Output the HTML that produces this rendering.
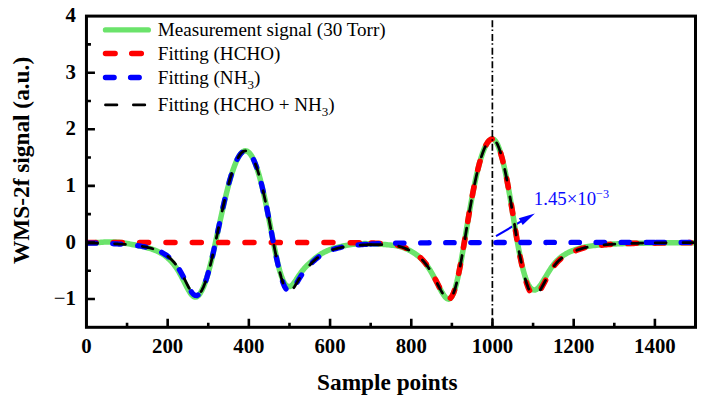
<!DOCTYPE html>
<html><head><meta charset="utf-8"><title>WMS-2f signal</title>
<style>
html,body{margin:0;padding:0;background:#fff;}
body{width:707px;height:402px;overflow:hidden;position:relative;font-family:"Liberation Serif",serif;}
</style></head><body>
<svg width="707" height="402" viewBox="0 0 707 402" style="position:absolute;left:0;top:0">
<defs><clipPath id="c"><rect x="85.25" y="16.10" width="611.45" height="311.20"/></clipPath></defs>
<line x1="496" y1="236.1" x2="522" y2="220.9" stroke="#0000ff" stroke-width="2.1"/>
<path d="M534.9,213.4 L522.7,224.9 L518.8,218.3 Z" fill="#0000ff"/>
<g clip-path="url(#c)" fill="none" stroke-linejoin="round">
<path d="M86.45,242.90 L88.07,242.88 L89.70,242.84 L91.32,242.80 L92.95,242.74 L94.57,242.67 L96.19,242.59 L97.82,242.50 L99.44,242.40 L101.07,242.30 L102.69,242.20 L104.32,242.10 L105.94,242.01 L107.56,241.95 L109.19,241.90 L110.81,241.88 L112.44,241.89 L114.06,241.94 L115.68,242.02 L117.31,242.14 L118.93,242.30 L120.56,242.49 L122.18,242.71 L123.81,242.95 L125.43,243.22 L127.05,243.51 L128.68,243.81 L130.30,244.11 L131.93,244.43 L133.55,244.75 L135.17,245.07 L136.80,245.40 L138.42,245.73 L140.05,246.07 L141.67,246.42 L143.29,246.78 L144.92,247.16 L146.54,247.57 L148.17,248.00 L149.79,248.47 L151.42,248.97 L153.04,249.53 L154.66,250.14 L156.29,250.80 L157.91,251.53 L159.54,252.34 L161.16,253.23 L162.78,254.22 L164.41,255.32 L166.03,256.53 L167.66,257.87 L169.28,259.36 L170.90,261.01 L172.53,262.83 L174.15,264.84 L175.78,267.04 L177.40,269.48 L179.03,272.15 L180.65,275.04 L182.27,278.11 L183.90,281.30 L185.52,284.54 L187.15,287.70 L188.77,290.64 L190.39,293.19 L192.02,295.21 L193.64,296.53 L195.27,297.05 L196.89,296.70 L198.52,295.51 L200.14,293.49 L201.76,290.70 L203.39,287.20 L205.01,283.01 L206.64,278.20 L208.26,272.80 L209.88,266.83 L211.51,260.33 L213.13,253.32 L214.76,245.84 L216.38,238.25 L218.00,230.74 L219.63,223.22 L221.25,215.77 L222.88,208.46 L224.50,201.38 L226.13,194.57 L227.75,188.11 L229.37,182.04 L231.00,176.40 L232.62,171.23 L234.25,166.58 L235.87,162.47 L237.49,158.93 L239.12,155.99 L240.74,153.68 L242.37,152.03 L243.99,151.06 L245.62,150.79 L247.24,151.23 L248.86,152.38 L250.49,154.23 L252.11,156.77 L253.74,159.98 L255.36,163.86 L256.98,168.39 L258.61,173.55 L260.23,179.32 L261.86,185.67 L263.48,192.56 L265.10,199.94 L266.73,207.77 L268.35,215.95 L269.98,224.39 L271.60,232.99 L273.23,241.59 L274.85,249.66 L276.47,257.32 L278.10,264.40 L279.72,270.70 L281.35,276.05 L282.97,280.31 L284.59,283.42 L286.22,285.42 L287.84,286.43 L289.47,286.60 L291.09,285.97 L292.71,284.55 L294.34,282.50 L295.96,280.08 L297.59,277.52 L299.21,275.03 L300.84,272.73 L302.46,270.63 L304.08,268.71 L305.71,266.94 L307.33,265.28 L308.96,263.71 L310.58,262.20 L312.20,260.74 L313.83,259.31 L315.45,257.95 L317.08,256.69 L318.70,255.52 L320.33,254.43 L321.95,253.44 L323.57,252.52 L325.20,251.68 L326.82,250.90 L328.45,250.20 L330.07,249.55 L331.69,248.99 L333.32,248.48 L334.94,248.00 L336.57,247.56 L338.19,247.14 L339.81,246.75 L341.44,246.38 L343.06,246.03 L344.69,245.70 L346.31,245.39 L347.94,245.10 L349.56,244.83 L351.18,244.58 L352.81,244.36 L354.43,244.17 L356.06,244.00 L357.68,243.86 L359.30,243.75 L360.93,243.68 L362.55,243.63 L364.18,243.61 L365.80,243.61 L367.43,243.64 L369.05,243.68 L370.67,243.74 L372.30,243.81 L373.92,243.90 L375.55,243.98 L377.17,244.08 L378.79,244.17 L380.42,244.27 L382.04,244.38 L383.67,244.49 L385.29,244.61 L386.91,244.73 L388.54,244.87 L390.16,245.02 L391.79,245.19 L393.41,245.39 L395.04,245.62 L396.66,245.88 L398.28,246.18 L399.91,246.53 L401.53,247.01 L403.16,247.55 L404.78,248.17 L406.40,248.87 L408.03,249.63 L409.65,250.46 L411.28,251.36 L412.90,252.31 L414.52,253.35 L416.15,254.47 L417.77,255.71 L419.40,257.08 L421.02,258.62 L422.65,260.30 L424.27,262.14 L425.89,264.14 L427.52,266.33 L429.14,268.71 L430.77,271.30 L432.39,274.09 L434.01,277.08 L435.64,280.20 L437.26,283.37 L438.89,286.55 L440.51,289.65 L442.14,292.56 L443.76,295.14 L445.38,297.24 L447.01,298.65 L448.63,299.15 L450.26,298.52 L451.88,296.59 L453.50,293.26 L455.13,288.52 L456.75,282.46 L458.38,275.23 L460.00,267.06 L461.62,258.17 L463.25,248.82 L464.87,239.17 L466.50,229.31 L468.12,219.56 L469.75,210.04 L471.37,200.89 L472.99,192.19 L474.62,184.02 L476.24,176.43 L477.87,169.47 L479.49,163.18 L481.11,157.58 L482.74,152.69 L484.36,148.53 L485.99,145.11 L487.61,142.44 L489.24,140.53 L490.86,139.38 L492.48,138.99 L494.11,139.58 L495.73,141.32 L497.36,144.16 L498.98,148.04 L500.60,152.91 L502.23,158.71 L503.85,165.37 L505.48,172.82 L507.10,180.99 L508.72,189.78 L510.35,199.09 L511.97,208.80 L513.60,218.78 L515.22,228.86 L516.85,238.88 L518.47,248.05 L520.09,256.34 L521.72,263.88 L523.34,270.55 L524.97,276.24 L526.59,280.87 L528.21,284.46 L529.84,287.07 L531.46,288.82 L533.09,289.83 L534.71,290.07 L536.33,289.48 L537.96,288.20 L539.58,286.32 L541.21,284.03 L542.83,281.46 L544.46,278.77 L546.08,276.04 L547.70,273.32 L549.33,270.69 L550.95,268.21 L552.58,265.90 L554.20,263.78 L555.82,261.87 L557.45,260.16 L559.07,258.65 L560.70,257.30 L562.32,256.09 L563.95,255.01 L565.57,254.03 L567.19,253.14 L568.82,252.33 L570.44,251.58 L572.07,250.90 L573.69,250.26 L575.31,249.67 L576.94,249.12 L578.56,248.61 L580.19,248.15 L581.81,247.72 L583.43,247.34 L585.06,246.98 L586.68,246.65 L588.31,246.36 L589.93,246.09 L591.56,245.85 L593.18,245.63 L594.80,245.43 L596.43,245.25 L598.05,245.09 L599.68,244.93 L601.30,244.79 L602.92,244.66 L604.55,244.54 L606.17,244.43 L607.80,244.33 L609.42,244.23 L611.05,244.14 L612.67,244.06 L614.29,243.98 L615.92,243.91 L617.54,243.84 L619.17,243.77 L620.79,243.71 L622.41,243.65 L624.04,243.60 L625.66,243.55 L627.29,243.50 L628.91,243.45 L630.53,243.41 L632.16,243.37 L633.78,243.33 L635.41,243.29 L637.03,243.26 L638.66,243.22 L640.28,243.19 L641.90,243.16 L643.53,243.13 L645.15,243.10 L646.78,243.08 L648.40,243.05 L650.02,243.03 L651.65,243.00 L653.27,242.98 L654.90,242.96 L656.52,242.94 L658.14,242.92 L659.77,242.90 L661.39,242.88 L663.02,242.87 L664.64,242.85 L666.27,242.84 L667.89,242.82 L669.51,242.81 L671.14,242.80 L672.76,242.78 L674.39,242.77 L676.01,242.76 L677.63,242.75 L679.26,242.74 L680.88,242.73 L682.51,242.72 L684.13,242.71 L685.76,242.70 L687.38,242.69 L689.00,242.68 L690.63,242.67 L692.25,242.66 L693.88,242.66 L695.50,242.65" stroke="#6be36b" stroke-width="5.5" stroke-linecap="round"/>
<path d="M86.45,242.43 L88.07,242.43 L89.70,242.43 L91.32,242.43 L92.95,242.43 L94.57,242.43 L96.19,242.43 L97.82,242.43 L99.44,242.43 L101.07,242.43 L102.69,242.43 L104.32,242.43 L105.94,242.43 L107.56,242.43 L109.19,242.43 L110.81,242.43 L112.44,242.43 L114.06,242.43 L115.68,242.43 L117.31,242.43 L118.93,242.43 L120.56,242.43 L122.18,242.43 L123.81,242.43 L125.43,242.43 L127.05,242.43 L128.68,242.43 L130.30,242.43 L131.93,242.43 L133.55,242.43 L135.17,242.43 L136.80,242.43 L138.42,242.43 L140.05,242.43 L141.67,242.43 L143.29,242.43 L144.92,242.43 L146.54,242.43 L148.17,242.43 L149.79,242.43 L151.42,242.43 L153.04,242.43 L154.66,242.43 L156.29,242.43 L157.91,242.43 L159.54,242.43 L161.16,242.43 L162.78,242.43 L164.41,242.43 L166.03,242.43 L167.66,242.43 L169.28,242.43 L170.90,242.43 L172.53,242.43 L174.15,242.43 L175.78,242.43 L177.40,242.43 L179.03,242.43 L180.65,242.43 L182.27,242.43 L183.90,242.43 L185.52,242.43 L187.15,242.43 L188.77,242.43 L190.39,242.43 L192.02,242.43 L193.64,242.43 L195.27,242.43 L196.89,242.43 L198.52,242.43 L200.14,242.43 L201.76,242.44 L203.39,242.44 L205.01,242.44 L206.64,242.44 L208.26,242.44 L209.88,242.44 L211.51,242.44 L213.13,242.44 L214.76,242.44 L216.38,242.44 L218.00,242.44 L219.63,242.44 L221.25,242.44 L222.88,242.44 L224.50,242.44 L226.13,242.44 L227.75,242.44 L229.37,242.44 L231.00,242.44 L232.62,242.44 L234.25,242.44 L235.87,242.44 L237.49,242.44 L239.12,242.44 L240.74,242.44 L242.37,242.44 L243.99,242.44 L245.62,242.44 L247.24,242.44 L248.86,242.45 L250.49,242.45 L252.11,242.45 L253.74,242.45 L255.36,242.45 L256.98,242.45 L258.61,242.45 L260.23,242.45 L261.86,242.45 L263.48,242.45 L265.10,242.45 L266.73,242.45 L268.35,242.45 L269.98,242.45 L271.60,242.46 L273.23,242.46 L274.85,242.46 L276.47,242.46 L278.10,242.46 L279.72,242.46 L281.35,242.46 L282.97,242.46 L284.59,242.47 L286.22,242.47 L287.84,242.47 L289.47,242.47 L291.09,242.47 L292.71,242.47 L294.34,242.48 L295.96,242.48 L297.59,242.48 L299.21,242.48 L300.84,242.48 L302.46,242.49 L304.08,242.49 L305.71,242.49 L307.33,242.49 L308.96,242.50 L310.58,242.50 L312.20,242.50 L313.83,242.51 L315.45,242.51 L317.08,242.51 L318.70,242.52 L320.33,242.52 L321.95,242.53 L323.57,242.53 L325.20,242.54 L326.82,242.54 L328.45,242.55 L330.07,242.56 L331.69,242.56 L333.32,242.57 L334.94,242.58 L336.57,242.59 L338.19,242.60 L339.81,242.61 L341.44,242.62 L343.06,242.63 L344.69,242.64 L346.31,242.65 L347.94,242.67 L349.56,242.68 L351.18,242.70 L352.81,242.72 L354.43,242.73 L356.06,242.76 L357.68,242.78 L359.30,242.80 L360.93,242.83 L362.55,242.86 L364.18,242.89 L365.80,242.92 L367.43,242.96 L369.05,243.00 L370.67,243.05" stroke="#ff0000" stroke-width="5.6" stroke-linecap="round" stroke-dasharray="8.9 17.43" stroke-dashoffset="-0.6"/>
<path d="M370.67,243.05 L372.30,243.10 L373.92,243.15 L375.55,243.21 L377.17,243.28 L378.79,243.36 L380.42,243.44 L382.04,243.53 L383.67,243.64 L385.29,243.76 L386.91,243.89 L388.54,244.04 L390.16,244.21 L391.79,244.40 L393.41,244.61 L395.04,244.86 L396.66,245.15 L398.28,245.47 L399.91,245.85 L401.53,246.35 L403.16,246.92 L404.78,247.57 L406.40,248.28 L408.03,249.07 L409.65,249.92 L411.28,250.84 L412.90,251.81 L414.52,252.87 L416.15,254.01 L417.77,255.26 L419.40,256.65 L421.02,258.20 L422.65,259.90 L424.27,261.75 L425.89,263.77 L427.52,265.98 L429.14,268.37 L430.77,270.97 L432.39,273.77 L434.01,276.77 L435.64,279.90 L437.26,283.08 L438.89,286.27 L440.51,289.38 L442.14,292.30 L443.76,294.89 L445.38,297.00 L447.01,298.41 L448.63,298.92 L450.26,298.30 L451.88,296.37 L453.50,293.05 L455.13,288.31 L456.75,282.26 L458.38,275.04 L460.00,266.87 L461.62,257.99 L463.25,248.65 L464.87,239.00 L466.50,229.15 L468.12,219.40 L469.75,209.89 L471.37,200.74 L472.99,192.04 L474.62,183.87 L476.24,176.29 L477.87,169.34 L479.49,163.05 L481.11,157.45 L482.74,152.57 L484.36,148.41 L485.99,145.00 L487.61,142.33 L489.24,140.42 L490.86,139.27 L492.48,138.88 L494.11,139.47 L495.73,141.22 L497.36,144.06 L498.98,147.94 L500.60,152.82 L502.23,158.62 L503.85,165.28 L505.48,172.74 L507.10,180.91 L508.72,189.71 L510.35,199.03 L511.97,208.75 L513.60,218.75 L515.22,228.87 L516.85,238.95 L518.47,248.23 L520.09,256.69 L521.72,264.52 L523.34,271.61 L524.97,277.89 L526.59,283.28 L528.21,287.73 L529.84,291.17 L531.46,293.58 L533.09,294.94 L534.71,295.27 L536.33,294.62 L537.96,293.14 L539.58,291.00 L541.21,288.39 L542.83,285.49 L544.46,282.45 L546.08,279.38 L547.70,276.34 L549.33,273.43 L550.95,270.69 L552.58,268.16 L554.20,265.86 L555.82,263.80 L557.45,261.97 L559.07,260.34 L560.70,258.90 L562.32,257.62 L563.95,256.46 L565.57,255.42 L567.19,254.47 L568.82,253.59 L570.44,252.79 L572.07,252.05 L573.69,251.35 L575.31,250.71 L576.94,250.10 L578.56,249.54 L580.19,249.02 L581.81,248.55 L583.43,248.11 L585.06,247.70 L586.68,247.33 L588.31,246.98 L589.93,246.67 L591.56,246.39 L593.18,246.13 L594.80,245.90 L596.43,245.68 L598.05,245.48 L599.68,245.29 L601.30,245.12 L602.92,244.96 L604.55,244.81 L606.17,244.67 L607.80,244.55 L609.42,244.43 L611.05,244.32 L612.67,244.22 L614.29,244.12 L615.92,244.03 L617.54,243.95 L619.17,243.87 L620.79,243.80 L622.41,243.73 L624.04,243.66 L625.66,243.60 L627.29,243.55 L628.91,243.49 L630.53,243.44 L632.16,243.39 L633.78,243.35 L635.41,243.31 L637.03,243.27 L638.66,243.23 L640.28,243.20 L641.90,243.16 L643.53,243.13 L645.15,243.10 L646.78,243.07 L648.40,243.05 L650.02,243.02 L651.65,243.00 L653.27,242.97 L654.90,242.95" stroke="#ff0000" stroke-width="5.6" stroke-linecap="round" stroke-dasharray="8.9 17.43" stroke-dashoffset="-0.6"/>
<path d="M654.90,242.95 L656.52,242.93 L658.14,242.91 L659.77,242.89 L661.39,242.87 L663.02,242.86 L664.64,242.84 L666.27,242.83 L667.89,242.81 L669.51,242.80 L671.14,242.78 L672.76,242.77 L674.39,242.76 L676.01,242.75 L677.63,242.74 L679.26,242.73 L680.88,242.72 L682.51,242.71 L684.13,242.70 L685.76,242.69 L687.38,242.68 L689.00,242.67 L690.63,242.66 L692.25,242.65 L693.88,242.65 L695.50,242.64" stroke="#ff0000" stroke-width="5.6" stroke-linecap="round" stroke-dasharray="8.9 17.43" stroke-dashoffset="-0.6"/>
<path d="M86.45,243.03 L88.07,243.05 L89.70,243.08 L91.32,243.11 L92.95,243.14 L94.57,243.18 L96.19,243.21 L97.82,243.25 L99.44,243.29 L101.07,243.33 L102.69,243.38 L104.32,243.42 L105.94,243.47 L107.56,243.53 L109.19,243.59 L110.81,243.65 L112.44,243.71 L114.06,243.78 L115.68,243.86 L117.31,243.94 L118.93,244.03 L120.56,244.12 L122.18,244.22 L123.81,244.32 L125.43,244.44 L127.05,244.56 L128.68,244.70 L130.30,244.84 L131.93,245.00 L133.55,245.16 L135.17,245.35 L136.80,245.54 L138.42,245.76 L140.05,245.99 L141.67,246.25 L143.29,246.52 L144.92,246.83 L146.54,247.16 L148.17,247.52 L149.79,247.92 L151.42,248.35 L153.04,248.83 L154.66,249.36 L156.29,249.94 L157.91,250.59 L159.54,251.30 L161.16,252.09 L162.78,252.96 L164.41,253.93 L166.03,255.01 L167.66,256.20 L169.28,257.54 L170.90,259.01 L172.53,260.66 L174.15,262.47 L175.78,264.49 L177.40,266.71 L179.03,269.17 L180.65,271.87 L182.27,274.80 L183.90,277.91 L185.52,281.14 L187.15,284.38 L188.77,287.50 L190.39,290.34 L192.02,292.72 L193.64,294.47 L195.27,295.45 L196.89,295.54 L198.52,294.73 L200.14,293.02 L201.76,290.47 L203.39,287.12 L205.01,283.03 L206.64,278.26 L208.26,272.85 L209.88,266.86 L211.51,260.33 L213.13,253.30 L214.76,245.81 L216.38,238.13 L218.00,230.47 L219.63,222.82 L221.25,215.27 L222.88,207.90 L224.50,200.78 L226.13,193.96 L227.75,187.51 L229.37,181.47 L231.00,175.88 L232.62,170.78 L234.25,166.19 L235.87,162.16 L237.49,158.69 L239.12,155.83 L240.74,153.58 L242.37,151.97 L243.99,151.03 L245.62,150.77 L247.24,151.21 L248.86,152.36 L250.49,154.21 L252.11,156.75 L253.74,159.96 L255.36,163.84 L256.98,168.37 L258.61,173.53 L260.23,179.30 L261.86,185.65 L263.48,192.54 L265.10,199.94 L266.73,207.77 L268.35,215.97 L269.98,224.46 L271.60,233.11 L273.23,241.79 L274.85,249.99 L276.47,257.84 L278.10,265.21 L279.72,271.93 L281.35,277.83 L282.97,282.77 L284.59,286.63 L286.22,289.34 L287.84,290.89 L289.47,291.31 L291.09,290.69 L292.71,289.17 L294.34,286.94 L295.96,284.29 L297.59,281.46 L299.21,278.67 L300.84,276.06 L302.46,273.66 L304.08,271.46 L305.71,269.43 L307.33,267.54 L308.96,265.77 L310.58,264.09 L312.20,262.48 L313.83,260.93 L315.45,259.46 L317.08,258.10 L318.70,256.84 L320.33,255.68 L321.95,254.61 L323.57,253.63 L325.20,252.73 L326.82,251.90 L328.45,251.14 L330.07,250.46 L331.69,249.87 L333.32,249.32 L334.94,248.83 L336.57,248.38 L338.19,247.96 L339.81,247.58 L341.44,247.24 L343.06,246.92 L344.69,246.63 L346.31,246.36 L347.94,246.11 L349.56,245.88 L351.18,245.67 L352.81,245.47 L354.43,245.29 L356.06,245.12 L357.68,244.97 L359.30,244.82 L360.93,244.69 L362.55,244.56 L364.18,244.45 L365.80,244.34 L367.43,244.24 L369.05,244.14 L370.67,244.05" stroke="#0000ff" stroke-width="5.3" stroke-linecap="round" stroke-dasharray="8.4 16.66" stroke-dashoffset="-1.2"/>
<path d="M370.67,244.05 L372.30,243.97 L373.92,243.89 L375.55,243.82 L377.17,243.75 L378.79,243.69 L380.42,243.63 L382.04,243.57 L383.67,243.52 L385.29,243.47 L386.91,243.42 L388.54,243.37 L390.16,243.33 L391.79,243.29 L393.41,243.25 L395.04,243.22 L396.66,243.18 L398.28,243.15 L399.91,243.12 L401.53,243.09 L403.16,243.07 L404.78,243.04 L406.40,243.02 L408.03,242.99 L409.65,242.97 L411.28,242.95 L412.90,242.93 L414.52,242.91 L416.15,242.89 L417.77,242.87 L419.40,242.86 L421.02,242.84 L422.65,242.83 L424.27,242.81 L425.89,242.80 L427.52,242.79 L429.14,242.77 L430.77,242.76 L432.39,242.75 L434.01,242.74 L435.64,242.73 L437.26,242.72 L438.89,242.71 L440.51,242.70 L442.14,242.69 L443.76,242.68 L445.38,242.67 L447.01,242.67 L448.63,242.66 L450.26,242.65 L451.88,242.64 L453.50,242.64 L455.13,242.63 L456.75,242.62 L458.38,242.62 L460.00,242.61 L461.62,242.61 L463.25,242.60 L464.87,242.60 L466.50,242.59 L468.12,242.59 L469.75,242.58 L471.37,242.58 L472.99,242.57 L474.62,242.57 L476.24,242.57 L477.87,242.56 L479.49,242.56 L481.11,242.55 L482.74,242.55 L484.36,242.55 L485.99,242.54 L487.61,242.54 L489.24,242.54 L490.86,242.54 L492.48,242.53 L494.11,242.53 L495.73,242.53 L497.36,242.52 L498.98,242.52 L500.60,242.52 L502.23,242.52 L503.85,242.52 L505.48,242.51 L507.10,242.51 L508.72,242.51 L510.35,242.51 L511.97,242.51 L513.60,242.50 L515.22,242.50 L516.85,242.50 L518.47,242.50 L520.09,242.50 L521.72,242.49 L523.34,242.49 L524.97,242.49 L526.59,242.49 L528.21,242.49 L529.84,242.49 L531.46,242.49 L533.09,242.48 L534.71,242.48 L536.33,242.48 L537.96,242.48 L539.58,242.48 L541.21,242.48 L542.83,242.48 L544.46,242.48 L546.08,242.48 L547.70,242.47 L549.33,242.47 L550.95,242.47 L552.58,242.47 L554.20,242.47 L555.82,242.47 L557.45,242.47 L559.07,242.47 L560.70,242.47 L562.32,242.47 L563.95,242.47 L565.57,242.46 L567.19,242.46 L568.82,242.46 L570.44,242.46 L572.07,242.46 L573.69,242.46 L575.31,242.46 L576.94,242.46 L578.56,242.46 L580.19,242.46 L581.81,242.46 L583.43,242.46 L585.06,242.46 L586.68,242.46 L588.31,242.46 L589.93,242.46 L591.56,242.45 L593.18,242.45 L594.80,242.45 L596.43,242.45 L598.05,242.45 L599.68,242.45 L601.30,242.45 L602.92,242.45 L604.55,242.45 L606.17,242.45 L607.80,242.45 L609.42,242.45 L611.05,242.45 L612.67,242.45 L614.29,242.45 L615.92,242.45 L617.54,242.45 L619.17,242.45 L620.79,242.45 L622.41,242.45 L624.04,242.45 L625.66,242.45 L627.29,242.45 L628.91,242.45 L630.53,242.45 L632.16,242.44 L633.78,242.44 L635.41,242.44 L637.03,242.44 L638.66,242.44 L640.28,242.44 L641.90,242.44 L643.53,242.44 L645.15,242.44 L646.78,242.44 L648.40,242.44 L650.02,242.44 L651.65,242.44 L653.27,242.44 L654.90,242.44" stroke="#0000ff" stroke-width="5.3" stroke-linecap="round" stroke-dasharray="8.4 16.66" stroke-dashoffset="0.1"/>
<path d="M654.90,242.44 L656.52,242.44 L658.14,242.44 L659.77,242.44 L661.39,242.44 L663.02,242.44 L664.64,242.44 L666.27,242.44 L667.89,242.44 L669.51,242.44 L671.14,242.44 L672.76,242.44 L674.39,242.44 L676.01,242.44 L677.63,242.44 L679.26,242.44 L680.88,242.44 L682.51,242.44 L684.13,242.44 L685.76,242.44 L687.38,242.44 L689.00,242.44 L690.63,242.44 L692.25,242.44 L693.88,242.44 L695.50,242.44" stroke="#0000ff" stroke-width="5.3" stroke-linecap="round" stroke-dasharray="8.4 16.66" stroke-dashoffset="-1.2"/>
<path d="M86.45,243.03 L88.07,243.05 L89.70,243.08 L91.32,243.11 L92.95,243.14 L94.57,243.18 L96.19,243.21 L97.82,243.25 L99.44,243.29 L101.07,243.33 L102.69,243.38 L104.32,243.43 L105.94,243.48 L107.56,243.53 L109.19,243.59 L110.81,243.65 L112.44,243.72 L114.06,243.79 L115.68,243.86 L117.31,243.94 L118.93,244.03 L120.56,244.12 L122.18,244.22 L123.81,244.33 L125.43,244.44 L127.05,244.57 L128.68,244.70 L130.30,244.84 L131.93,245.00 L133.55,245.17 L135.17,245.35 L136.80,245.55 L138.42,245.76 L140.05,246.00 L141.67,246.25 L143.29,246.53 L144.92,246.83 L146.54,247.16 L148.17,247.52 L149.79,247.92 L151.42,248.36 L153.04,248.84 L154.66,249.37 L156.29,249.95 L157.91,250.59 L159.54,251.30 L161.16,252.09 L162.78,252.96 L164.41,253.93 L166.03,255.01 L167.66,256.21 L169.28,257.54 L170.90,259.02 L172.53,260.66 L174.15,262.48 L175.78,264.49 L177.40,266.71 L179.03,269.17 L180.65,271.88 L182.27,274.81 L183.90,277.92 L185.52,281.14 L187.15,284.38 L188.77,287.50 L190.39,290.35 L192.02,292.73 L193.64,294.48 L195.27,295.45 L196.89,295.55 L198.52,294.73 L200.14,293.03 L201.76,290.48 L203.39,287.13 L205.01,283.04 L206.64,278.27 L208.26,272.86 L209.88,266.87 L211.51,260.34 L213.13,253.31 L214.76,245.82 L216.38,238.14 L218.00,230.48 L219.63,222.83 L221.25,215.28 L222.88,207.91 L224.50,200.79 L226.13,193.97 L227.75,187.52 L229.37,181.48 L231.00,175.89 L232.62,170.79 L234.25,166.21 L235.87,162.17 L237.49,158.71 L239.12,155.84 L240.74,153.59 L242.37,151.99 L243.99,151.05 L245.62,150.79 L247.24,151.23 L248.86,152.38 L250.49,154.23 L252.11,156.77 L253.74,159.98 L255.36,163.86 L256.98,168.39 L258.61,173.55 L260.23,179.32 L261.86,185.67 L263.48,192.57 L265.10,199.96 L266.73,207.80 L268.35,216.00 L269.98,224.48 L271.60,233.13 L273.23,241.82 L274.85,250.02 L276.47,257.87 L278.10,265.24 L279.72,271.96 L281.35,277.86 L282.97,282.81 L284.59,286.67 L286.22,289.38 L287.84,290.93 L289.47,291.35 L291.09,290.74 L292.71,289.21 L294.34,286.99 L295.96,284.34 L297.59,281.51 L299.21,278.72 L300.84,276.12 L302.46,273.72 L304.08,271.52 L305.71,269.49 L307.33,267.61 L308.96,265.84 L310.58,264.16 L312.20,262.55 L313.83,261.01 L315.45,259.54 L317.08,258.19 L318.70,256.93 L320.33,255.78 L321.95,254.71 L323.57,253.74 L325.20,252.84 L326.82,252.02 L328.45,251.27 L330.07,250.59 L331.69,250.00 L333.32,249.47 L334.94,248.98 L336.57,248.54 L338.19,248.13 L339.81,247.76 L341.44,247.43 L343.06,247.12 L344.69,246.84 L346.31,246.58 L347.94,246.35 L349.56,246.13 L351.18,245.94 L352.81,245.76 L354.43,245.60 L356.06,245.45 L357.68,245.32 L359.30,245.20 L360.93,245.09 L362.55,244.99 L364.18,244.91 L365.80,244.83 L367.43,244.77 L369.05,244.72 L370.67,244.67" stroke="#000" stroke-width="2.8" stroke-linecap="round" stroke-dasharray="10.8 17.05" stroke-dashoffset="-0.3"/>
<path d="M370.67,244.67 L372.30,244.64 L373.92,244.62 L375.55,244.61 L377.17,244.60 L378.79,244.62 L380.42,244.64 L382.04,244.68 L383.67,244.73 L385.29,244.79 L386.91,244.88 L388.54,244.98 L390.16,245.11 L391.79,245.26 L393.41,245.44 L395.04,245.65 L396.66,245.90 L398.28,246.20 L399.91,246.55 L401.53,247.02 L403.16,247.56 L404.78,248.18 L406.40,248.87 L408.03,249.64 L409.65,250.47 L411.28,251.36 L412.90,252.32 L414.52,253.35 L416.15,254.47 L417.77,255.71 L419.40,257.08 L421.02,258.62 L422.65,260.30 L424.27,262.14 L425.89,264.14 L427.52,266.33 L429.14,268.72 L430.77,271.30 L432.39,274.09 L434.01,277.08 L435.64,280.20 L437.26,283.37 L438.89,286.55 L440.51,289.65 L442.14,292.56 L443.76,295.14 L445.38,297.24 L447.01,298.65 L448.63,299.15 L450.26,298.52 L451.88,296.59 L453.50,293.26 L455.13,288.52 L456.75,282.46 L458.38,275.23 L460.00,267.06 L461.62,258.17 L463.25,248.82 L464.87,239.17 L466.50,229.31 L468.12,219.56 L469.75,210.04 L471.37,200.89 L472.99,192.19 L474.62,184.02 L476.24,176.43 L477.87,169.47 L479.49,163.18 L481.11,157.58 L482.74,152.69 L484.36,148.53 L485.99,145.11 L487.61,142.44 L489.24,140.53 L490.86,139.38 L492.48,138.99 L494.11,139.58 L495.73,141.32 L497.36,144.16 L498.98,148.04 L500.60,152.91 L502.23,158.71 L503.85,165.37 L505.48,172.83 L507.10,181.00 L508.72,189.79 L510.35,199.11 L511.97,208.83 L513.60,218.83 L515.22,228.95 L516.85,239.02 L518.47,248.30 L520.09,256.76 L521.72,264.58 L523.34,271.67 L524.97,277.95 L526.59,283.35 L528.21,287.79 L529.84,291.23 L531.46,293.64 L533.09,295.00 L534.71,295.32 L536.33,294.68 L537.96,293.19 L539.58,291.05 L541.21,288.44 L542.83,285.54 L544.46,282.50 L546.08,279.43 L547.70,276.39 L549.33,273.47 L550.95,270.73 L552.58,268.21 L554.20,265.91 L555.82,263.84 L557.45,262.01 L559.07,260.38 L560.70,258.94 L562.32,257.65 L563.95,256.50 L565.57,255.45 L567.19,254.50 L568.82,253.63 L570.44,252.83 L572.07,252.08 L573.69,251.39 L575.31,250.74 L576.94,250.13 L578.56,249.57 L580.19,249.06 L581.81,248.58 L583.43,248.14 L585.06,247.73 L586.68,247.36 L588.31,247.01 L589.93,246.70 L591.56,246.42 L593.18,246.16 L594.80,245.92 L596.43,245.70 L598.05,245.50 L599.68,245.32 L601.30,245.14 L602.92,244.98 L604.55,244.84 L606.17,244.70 L607.80,244.57 L609.42,244.45 L611.05,244.34 L612.67,244.24 L614.29,244.14 L615.92,244.05 L617.54,243.97 L619.17,243.89 L620.79,243.82 L622.41,243.75 L624.04,243.68 L625.66,243.62 L627.29,243.56 L628.91,243.51 L630.53,243.46 L632.16,243.41 L633.78,243.37 L635.41,243.33 L637.03,243.29 L638.66,243.25 L640.28,243.21 L641.90,243.18 L643.53,243.15 L645.15,243.12 L646.78,243.09 L648.40,243.06 L650.02,243.04 L651.65,243.01 L653.27,242.99 L654.90,242.97" stroke="#000" stroke-width="2.8" stroke-linecap="round" stroke-dasharray="10.8 17.05" stroke-dashoffset="-0.3"/>
<path d="M654.90,242.97 L656.52,242.94 L658.14,242.92 L659.77,242.91 L661.39,242.89 L663.02,242.87 L664.64,242.85 L666.27,242.84 L667.89,242.82 L669.51,242.81 L671.14,242.80 L672.76,242.78 L674.39,242.77 L676.01,242.76 L677.63,242.75 L679.26,242.74 L680.88,242.73 L682.51,242.72 L684.13,242.71 L685.76,242.70 L687.38,242.69 L689.00,242.68 L690.63,242.67 L692.25,242.66 L693.88,242.66 L695.50,242.65" stroke="#000" stroke-width="2.8" stroke-linecap="round" stroke-dasharray="10.8 17.05" stroke-dashoffset="-0.3"/>
</g>
<line x1="492.38" y1="20.2" x2="492.38" y2="327.30" stroke="#000" stroke-width="1.7" stroke-dasharray="7 2.4 1.5 2.82"/>
<rect x="86.45" y="16.10" width="609.05" height="311.20" fill="none" stroke="#000" stroke-width="3.0"/>
<path d="M127.05,327.30 v-4.5 M167.66,327.30 v-8.5 M208.26,327.30 v-4.5 M248.86,327.30 v-8.5 M289.47,327.30 v-4.5 M330.07,327.30 v-8.5 M370.67,327.30 v-4.5 M411.28,327.30 v-8.5 M451.88,327.30 v-4.5 M492.48,327.30 v-8.5 M533.09,327.30 v-4.5 M573.69,327.30 v-8.5 M614.29,327.30 v-4.5 M654.90,327.30 v-8.5 M86.45,299.01 h8.5 M86.45,270.72 h4.5 M86.45,242.43 h8.5 M86.45,214.14 h4.5 M86.45,185.85 h8.5 M86.45,157.55 h4.5 M86.45,129.26 h8.5 M86.45,100.97 h4.5 M86.45,72.68 h8.5 M86.45,44.39 h4.5" stroke="#000" stroke-width="2.6" fill="none"/>
<g font-family="'Liberation Serif', serif" font-weight="bold" font-size="20.8px" fill="#000">
<text x="86.45" y="352.5" text-anchor="middle">0</text>
<text x="167.66" y="352.5" text-anchor="middle">200</text>
<text x="248.86" y="352.5" text-anchor="middle">400</text>
<text x="330.07" y="352.5" text-anchor="middle">600</text>
<text x="411.28" y="352.5" text-anchor="middle">800</text>
<text x="492.48" y="352.5" text-anchor="middle">1000</text>
<text x="573.69" y="352.5" text-anchor="middle">1200</text>
<text x="654.90" y="352.5" text-anchor="middle">1400</text>
<text x="75.9" y="305.21" text-anchor="end"><tspan font-weight="normal">−</tspan>1</text>
<text x="75.9" y="248.63" text-anchor="end">0</text>
<text x="75.9" y="192.05" text-anchor="end">1</text>
<text x="75.9" y="135.46" text-anchor="end">2</text>
<text x="75.9" y="78.88" text-anchor="end">3</text>
<text x="75.9" y="22.30" text-anchor="end">4</text>
</g>
<text x="387.3" y="389.8" text-anchor="middle" font-family="'Liberation Serif', serif" font-weight="bold" font-size="23.3px">Sample points</text>
<text transform="translate(28.9,160.4) rotate(-90)" text-anchor="middle" font-family="'Liberation Serif', serif" font-weight="bold" font-size="23.3px">WMS-2f signal (a.u.)</text>
<g fill="none" stroke-linecap="round">
<path d="M105.4,29.9 H148.4" stroke="#6be36b" stroke-width="5.2"/>
<path d="M105.5,53.4 H147.7" stroke="#ff0000" stroke-width="5.5" stroke-dasharray="9.6 16.6"/>
<path d="M105.5,77.5 H147.7" stroke="#0000ff" stroke-width="5.4" stroke-dasharray="8.6 16.5"/>
<path d="M105.5,104.9 H147.7" stroke="#000" stroke-width="2.8" stroke-dasharray="11.4 16.5"/>
</g>
<g font-family="'Liberation Serif', serif" font-size="19.1px" fill="#000">
<text x="157.8" y="36.0">Measurement signal (30 Torr)</text>
<text x="157.8" y="59.9">Fitting (HCHO)</text>
<text x="157.8" y="83.6">Fitting (NH<tspan font-size="13px" dy="5.2">3</tspan><tspan dy="-5.2">)</tspan></text>
<text x="157.8" y="110.8">Fitting (HCHO + NH<tspan font-size="13px" dy="5.2">3</tspan><tspan dy="-5.2">)</tspan></text>
</g>
<text x="533.8" y="205.4" font-family="'Liberation Serif', serif" font-size="18.8px" fill="#0a0aff">1.45×10<tspan font-size="12.2px" dy="-7.6">−3</tspan></text>
</svg>
</body></html>
